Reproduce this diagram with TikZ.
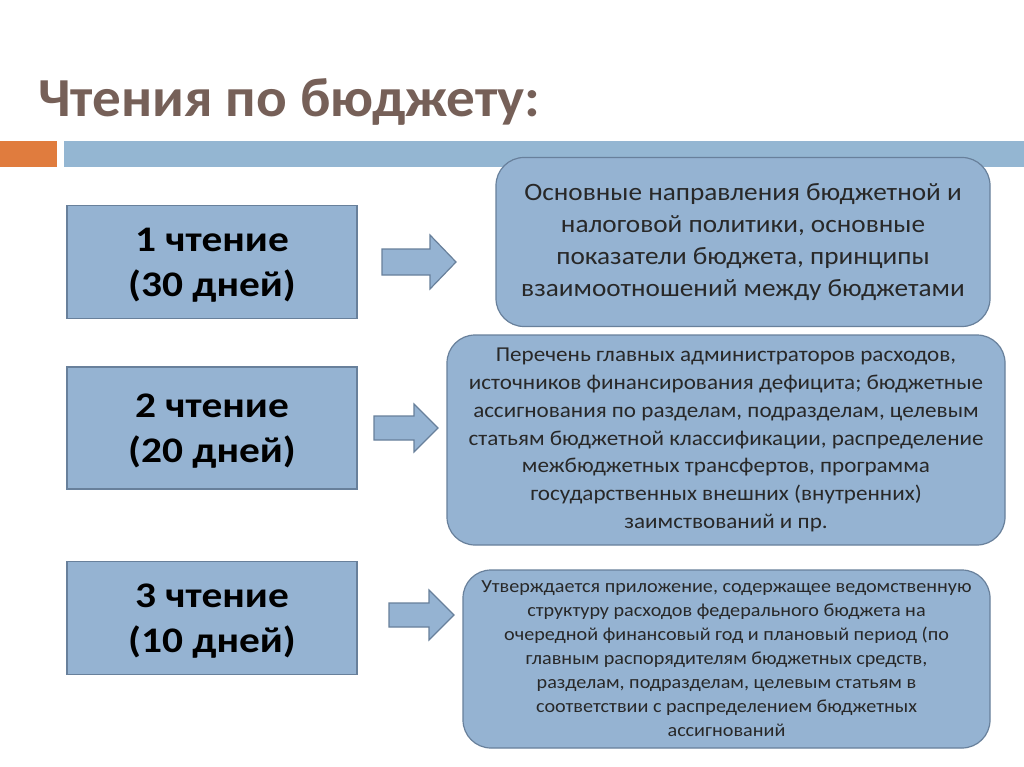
\documentclass[tikz,border=0pt]{standalone}
\usepackage{fontspec}
\setmainfont{Carlito}
\newfontfamily\titlefont[FakeStretch=1.04]{Carlito}
\newfontfamily\leftfont[FakeStretch=1.15]{Carlito}
\newfontfamily\bodyfont[FakeStretch=1.09]{Carlito}
\usetikzlibrary{calc}
\definecolor{boxfill}{RGB}{149,179,210}
\definecolor{boxline}{RGB}{104,128,155}
\definecolor{titlecol}{RGB}{118,96,88}
\definecolor{orangesq}{RGB}{224,124,62}
\definecolor{barblue}{RGB}{148,182,210}
\definecolor{txtgray}{RGB}{40,40,40}
\tikzset{
  readbox/.style={draw=boxline, line width=1.2pt, fill=boxfill, rectangle, inner sep=0pt},
  readtext/.style={font=\leftfont\fontsize{36}{45}\selectfont\bfseries, align=center, text=black, inner sep=0pt, yshift=-3pt},
  infobox/.style={draw=boxline, line width=1.2pt, fill=boxfill, rounded corners=28pt, inner sep=0pt,
    align=center, text=txtgray},
  fatarrow/.style={draw=boxline, line width=1.2pt, fill=boxfill, line join=miter}
}
\begin{document}
\begin{tikzpicture}[x=1pt,y=-1pt]
\useasboundingbox (0,0) rectangle (1024,767);
\fill[white] (0,0) rectangle (1024,767);
% title
\node[anchor=base west, inner sep=0pt, text=titlecol, font=\titlefont\fontsize{55}{60}\selectfont\bfseries] (title) at (38,117) {Чтения по бюджету:};
% bars
\fill[orangesq] (0,141) rectangle (57,167);
\fill[barblue] (64,141) rectangle (1024,167);
% left boxes
\node[readbox, minimum width=290pt, minimum height=113pt, label={[readtext]center:1 чтение\\(30 дней)}] (r1) at (212,262) {};
\node[readbox, minimum width=290pt, minimum height=122pt, label={[readtext]center:2 чтение\\(20 дней)}] (r2) at (212,428) {};
\node[readbox, minimum width=290pt, minimum height=113pt, label={[readtext]center:3 чтение\\(10 дней)}] (r3) at (212,618) {};
% right boxes
\node[infobox, minimum width=494pt, minimum height=169pt, font=\bodyfont\fontsize{25}{32}\selectfont] (b1) at (743,242)
 {Основные направления бюджетной и\\налоговой политики, основные\\показатели бюджета, принципы\\взаимоотношений между бюджетами};
\node[infobox, minimum width=558pt, minimum height=210pt, font=\bodyfont\fontsize{21.2}{27.7}\selectfont] (b2) at (726,440)
 {Перечень главных администраторов расходов,\\источников финансирования дефицита; бюджетные\\ассигнования по разделам, подразделам, целевым\\статьям бюджетной классификации, распределение\\межбюджетных трансфертов, программа\\государственных внешних (внутренних)\\заимствований и пр.};
\node[infobox, minimum width=527pt, minimum height=178pt, font=\bodyfont\fontsize{18.5}{24}\selectfont] (b3) at (726.5,659)
 {Утверждается приложение, содержащее ведомственную\\структуру расходов федерального бюджета на\\очередной финансовый год и плановый период (по\\главным распорядителям бюджетных средств,\\разделам, подразделам, целевым статьям в\\соответствии с распределением бюджетных\\ассигнований};
% arrows
\coordinate (a1) at (382,262);
\coordinate (a2) at (374,428);
\coordinate (a3) at (389,615);
\draw[fatarrow] ($(a1)+(0,-13)$) -- ++(48,0) -- ++(0,-14) -- ++(26,27) -- ++(-26,27) -- ++(0,-14) -- ++(-48,0) -- cycle;
\draw[fatarrow] ($(a2)+(0,-12)$) -- ++(40,0) -- ++(0,-12) -- ++(24,24) -- ++(-24,24) -- ++(0,-12) -- ++(-40,0) -- cycle;
\draw[fatarrow] ($(a3)+(0,-12)$) -- ++(40,0) -- ++(0,-13) -- ++(25,25) -- ++(-25,25) -- ++(0,-13) -- ++(-40,0) -- cycle;
\end{tikzpicture}
\end{document}
